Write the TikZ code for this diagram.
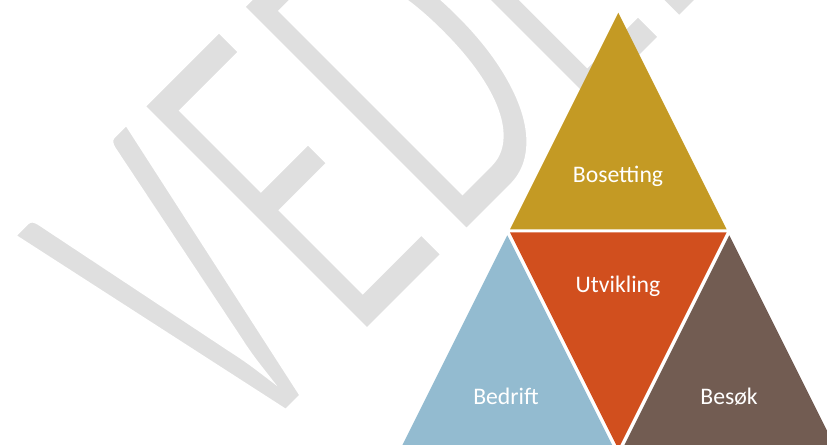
\documentclass[tikz,border=0pt]{standalone}
\usepackage{fontspec}
\setmainfont{Carlito}
\usepackage{tikz}
\usetikzlibrary{calc, positioning}
\definecolor{wmgray}{RGB}{223,223,223}
\definecolor{bosgold}{RGB}{196,154,36}
\definecolor{utvorange}{RGB}{209,79,30}
\definecolor{bedblue}{RGB}{147,187,208}
\definecolor{besbrown}{RGB}{114,92,82}
% thinner watermark letters: fill grey, stroke the outline in white
\newcommand{\thinwm}[1]{\special{pdf:literal direct 2 Tr 1 1 1 RG 3.4 w}#1\special{pdf:literal direct 0 Tr}}

\begin{document}
\begin{tikzpicture}[
	lbl/.style={text=white, font=\fontsize{13.5}{16}\selectfont, anchor=base},
	wmark/.style={text=wmgray, font=\fontsize{165}{170}\selectfont, inner sep=0pt, anchor=base west}
]
	\useasboundingbox (0,0) rectangle (16.54,8.9);
	\clip (0,0) rectangle (16.54,8.9);

	% watermark behind everything
	\node[wmark, rotate=45, yscale=1.734, transform shape] (wm) at (4.752,-0.378) {\thinwm{VEDLEGG}};

	% top triangle
	\coordinate (bos top) at (12.366,8.646);
	\coordinate (bos l) at (10.2,4.314);
	\coordinate (bos r) at (14.532,4.314);
	\fill[bosgold] (bos top) -- (bos l) -- (bos r) -- cycle;
	\node[lbl] (bos) at (12.36,5.246) {Bosetting};

	% middle triangle, upside down
	\coordinate (utv l) at (10.2,4.254);
	\coordinate (utv r) at (14.532,4.254);
	\coordinate (utv bot) at (12.366,-0.078);
	\fill[utvorange] (utv l) -- (utv r) -- (utv bot) -- cycle;
	\node[lbl] (utv) at (12.36,3.046) {Utvikling};

	% left triangle
	\coordinate (bed top) at (10.146,4.194);
	\coordinate (bed l) at (7.949,-0.2);
	\coordinate (bed r) at (12.343,-0.2);
	\fill[bedblue] (bed top) -- (bed l) -- (bed r) -- cycle;
	\node[lbl] (bed) at (10.12,0.814) {Bedrift};

	% right triangle
	\coordinate (bes top) at (14.586,4.194);
	\coordinate (bes l) at (12.389,-0.2);
	\coordinate (bes r) at (16.783,-0.2);
	\fill[besbrown] (bes top) -- (bes l) -- (bes r) -- cycle;
	\node[lbl] (bes) at (14.58,0.814) {Besøk};
\end{tikzpicture}
\end{document}
